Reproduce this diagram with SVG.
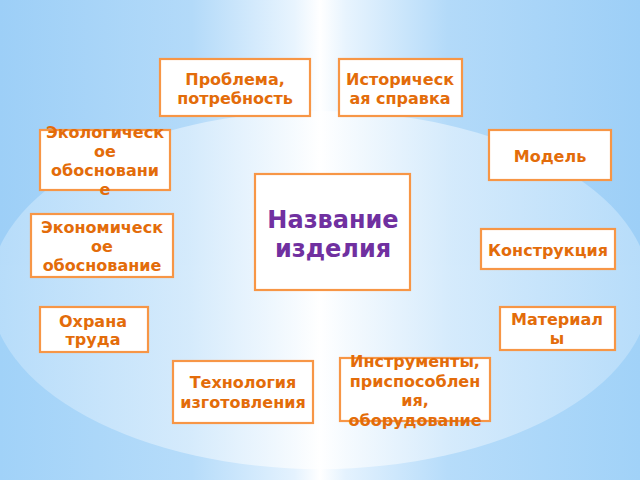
<svg xmlns="http://www.w3.org/2000/svg" width="640" height="480" viewBox="0 0 640 480">
<defs>
<linearGradient id="bgTop" x1="0" y1="0" x2="1" y2="0">
<stop offset="0" stop-color="#9dcff7"/>
<stop offset="0.3" stop-color="#b3daf9"/>
<stop offset="0.46" stop-color="#e8f4fe"/>
<stop offset="0.5" stop-color="#ffffff"/>
<stop offset="0.54" stop-color="#e8f4fe"/>
<stop offset="0.7" stop-color="#b3daf9"/>
<stop offset="1" stop-color="#9dcff7"/>
</linearGradient>
<linearGradient id="bgBot" x1="0" y1="0" x2="1" y2="0">
<stop offset="0" stop-color="#a1d2f8"/>
<stop offset="0.3" stop-color="#b6dcfa"/>
<stop offset="0.46" stop-color="#e4f2fe"/>
<stop offset="0.5" stop-color="#ffffff"/>
<stop offset="0.54" stop-color="#e4f2fe"/>
<stop offset="0.7" stop-color="#b6dcfa"/>
<stop offset="1" stop-color="#a1d2f8"/>
</linearGradient>
<linearGradient id="glow" x1="0" y1="0" x2="1" y2="0">
<stop offset="0" stop-color="#b8ddfa"/>
<stop offset="0.3" stop-color="#d8ecfc"/>
<stop offset="0.5" stop-color="#ffffff"/>
<stop offset="0.7" stop-color="#d8ecfc"/>
<stop offset="1" stop-color="#b8ddfa"/>
</linearGradient>
<clipPath id="c"><rect width="640" height="480"/></clipPath>
</defs>
<style>
.box{fill:#ffffff;stroke:#f79646;stroke-width:2.2}
.t{font-family:"DejaVu Sans","Verdana",sans-serif;font-weight:bold;font-size:16px;fill:#e36c0a;text-anchor:middle}
.big{font-family:"DejaVu Sans","Verdana",sans-serif;font-weight:bold;font-size:24px;fill:#7030a0;text-anchor:middle}
</style>
<g id="background" clip-path="url(#c)">
<rect x="0" y="0" width="640" height="265" fill="url(#bgTop)"/>
<rect x="0" y="265" width="640" height="215" fill="url(#bgBot)"/>
<ellipse cx="320" cy="290" rx="330" ry="179" fill="url(#glow)" opacity="0.9"/>
</g>
<g id="connectors"/>
<g id="n-problem"><rect class="box" x="160" y="59" width="150" height="57"/><text class="t" x="235" y="85">Проблема,</text><text class="t" x="235" y="104">потребность</text></g>
<g id="n-history"><rect class="box" x="339" y="59" width="123" height="57"/><text class="t" x="400" y="85">Историческ</text><text class="t" x="400" y="104">ая справка</text></g>
<g id="n-ecology"><rect class="box" x="40" y="130" width="130" height="60"/><text class="t" x="105" y="138">Экологическ</text><text class="t" x="105" y="157">ое</text><text class="t" x="105" y="176">обосновани</text><text class="t" x="105" y="195">е</text></g>
<g id="n-model"><rect class="box" x="489" y="130" width="122" height="50"/><text class="t" x="550" y="162">Модель</text></g>
<g id="n-center"><rect class="box" x="255" y="174" width="155" height="116"/><text class="big" x="333" y="228">Название</text><text class="big" x="333" y="257">изделия</text></g>
<g id="n-economy"><rect class="box" x="31" y="214" width="142" height="63"/><text class="t" x="102" y="233">Экономическ</text><text class="t" x="102" y="252">ое</text><text class="t" x="102" y="271">обоснование</text></g>
<g id="n-construction"><rect class="box" x="481" y="229" width="134" height="40"/><text class="t" x="548" y="256">Конструкция</text></g>
<g id="n-safety"><rect class="box" x="40" y="307" width="108" height="45"/><text class="t" x="93" y="327">Охрана</text><text class="t" x="93" y="345">труда</text></g>
<g id="n-materials"><rect class="box" x="500" y="307" width="115" height="43"/><text class="t" x="557" y="325">Материал</text><text class="t" x="557" y="344">ы</text></g>
<g id="n-technology"><rect class="box" x="173" y="361" width="140" height="62"/><text class="t" x="243" y="388">Технология</text><text class="t" x="243" y="408">изготовления</text></g>
<g id="n-tools"><rect class="box" x="340" y="358" width="150" height="63"/><text class="t" x="415" y="367">Инструменты,</text><text class="t" x="415" y="387">приспособлен</text><text class="t" x="415" y="406">ия,</text><text class="t" x="415" y="426">оборудование</text></g>
</svg>
